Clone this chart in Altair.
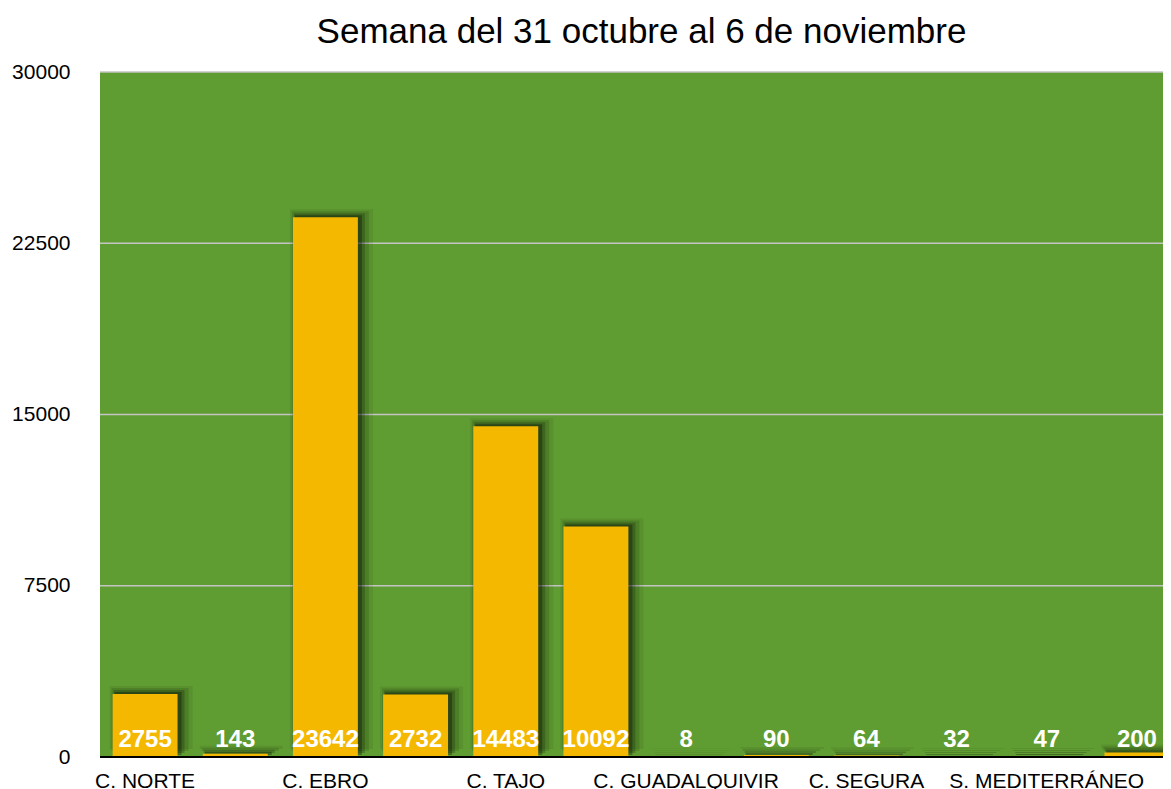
import altair as alt
import pandas as pd

# ---- data ----
bar_index = list(range(12))
values = [2755, 143, 23642, 2732, 14483, 10092, 8, 90, 64, 32, 47, 200]
axis_labels = ["C. NORTE", "", "C. EBRO", "", "C. TAJO", "", "C. GUADALQUIVIR", "",
               "C. SEGURA", "", "S. MEDITERRÁNEO", ""]
y_ticks = [0, 7500, 15000, 22500, 30000]
chart_title = "Semana del 31 octubre al 6 de noviembre"

FONT = "Liberation Sans"
GREEN = "#5f9c31"
YELLOW = "#f5b800"
PLOT_W = 1063

df = pd.DataFrame({"i": bar_index, "v": values})
grid_df = pd.DataFrame({"t": y_ticks})

label_expr = "[" + ",".join("'" + s + "'" for s in axis_labels) + "][datum.value]"

x_enc = alt.X(
    "i:O",
    scale=alt.Scale(range=[0, 1082], paddingInner=0.28, paddingOuter=0.14),
    axis=alt.Axis(
        title=None, labelExpr=label_expr, labelAngle=0, domain=False, ticks=False,
        labelPadding=13, labelFontSize=21, labelColor="black", labelFont=FONT,
        grid=False, labelLimit=400,
    ),
)
y_scale = alt.Scale(domain=[0, 30000], nice=False)
y_enc = alt.Y(
    "v:Q",
    scale=y_scale,
    axis=alt.Axis(
        title=None, values=y_ticks, format="d", domain=False, ticks=False,
        labelPadding=30, labelFontSize=21, labelColor="black", labelFont=FONT,
        grid=False,
    ),
)

layers = []

gridlines = alt.Chart(grid_df).mark_rule(color="#c4c4c4", strokeWidth=1.5).encode(
    y=alt.Y("t:Q", scale=y_scale), x=alt.value(0), x2=alt.value(PLOT_W)
)
layers.append(gridlines)

base = alt.Chart(df).encode(x=x_enc, y=y_enc)

shadow_specs = [(83, 6, -8, 0.07), (77, 5, -6, 0.12), (71, 4, -4, 0.2), (67, 3, -2, 0.3)]
for w, xo, yo, op in shadow_specs:
    layers.append(base.mark_bar(color="black", opacity=op, width=w, xOffset=xo,
                                yOffset=yo, clip=True))

bars = base.mark_bar(color=YELLOW, clip=True)
layers.append(bars)

baseline = alt.Chart(df).mark_rule(color="black", strokeWidth=2).encode(
    x=alt.value(0), x2=alt.value(PLOT_W), y=alt.datum(0)
)
layers.append(baseline)

labels = alt.Chart(df).mark_text(
    color="white", fontWeight="bold", fontSize=24, font=FONT,
    baseline="alphabetic", dy=-10,
).encode(x=x_enc, y=alt.datum(0), text=alt.Text("v:Q", format="d"))
layers.append(labels)

chart = alt.layer(*layers).properties(
    width=PLOT_W,
    height=685,
    title=alt.TitleParams(chart_title, fontSize=35, font=FONT, fontWeight="normal",
                          color="black", anchor="middle", offset=11, dx=10),
    padding={"left": 92, "top": 64, "right": 0, "bottom": 42},
    autosize=alt.AutoSizeParams(type="none"),
).configure(background="white").configure_view(fill=GREEN, stroke=None)

chart.save("out.html", embed_options={"renderer": "svg", "actions": False})
